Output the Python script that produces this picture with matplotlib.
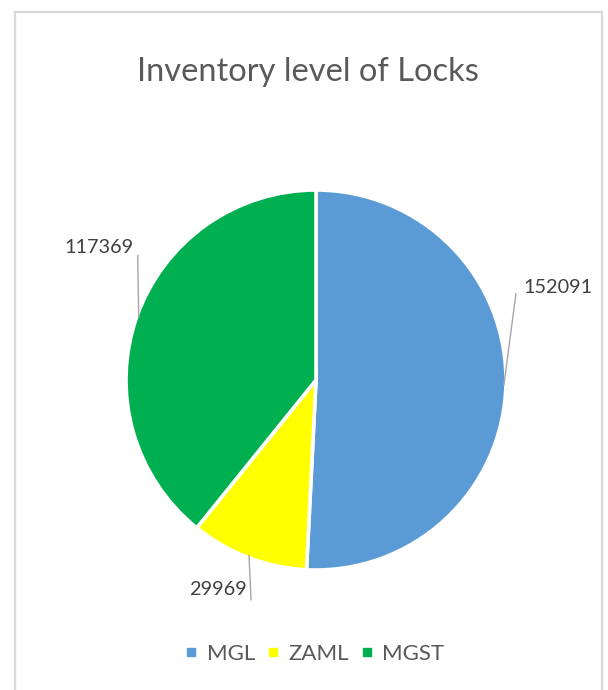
import numpy as np
import matplotlib
matplotlib.use("Agg")
import matplotlib.pyplot as plt
from matplotlib.lines import Line2D
from matplotlib.patches import Rectangle

plt.rcParams["font.family"] = ["Lato", "DejaVu Sans"]

# data
title = "Inventory level of Locks"
categories = ["MGL", "ZAML", "MGST"]
values = [152091, 29969, 117369]
colors = ["#5B9BD5", "#FFFF00", "#00B050"]

W, H = 608, 690
fig = plt.figure(figsize=(W / 100, H / 100), dpi=100)
ax = fig.add_axes([0, 0, 1, 1])

# chart frame
fig.patches.append(Rectangle((15 / W, -0.05), 587 / W, 1.05 - 12 / H,
                             transform=fig.transFigure, fill=False,
                             edgecolor="#D9D9D9", linewidth=1.6))

center = (316, 310)
radius = 190
wedges, _ = ax.pie(values, colors=colors, startangle=90, counterclock=False,
                   center=center, radius=radius, frame=True,
                   wedgeprops=dict(edgecolor="white", linewidth=2.6))
ax.set_xlim(0, W)
ax.set_ylim(0, H)
ax.set_aspect("equal")
ax.axis("off")

# leader lines + data labels (line offset, text offset, alignment)
line_off = [(12, 91), (2, -44), (-1, 62)]
text_off = [(7, 6), (-4, 10), (-4, 8)]
aligns = ["left", "right", "right"]
for w, v, lo, to, ha in zip(wedges, values, line_off, text_off, aligns):
    ang = np.deg2rad((w.theta1 + w.theta2) / 2)
    x0 = center[0] + 188 * np.cos(ang)
    y0 = center[1] + 188 * np.sin(ang)
    x1, y1 = x0 + lo[0], y0 + lo[1]
    ax.plot([x0, x1], [y0, y1], color="#A6A6A6", linewidth=1.0)
    ax.text(x1 + to[0], y1 + to[1], str(v), ha=ha, va="center",
            fontsize=14.3, color="#404040")

fig.text(308 / W, (H - 81) / H, title, ha="center", va="baseline",
         fontsize=23.5, color="#595959")

handles = [Line2D([], [], marker="s", linestyle="none", markersize=5.2,
                  markerfacecolor=c, markeredgecolor=c) for c in colors]
fig.legend(handles, categories, loc="center", ncol=3,
           bbox_to_anchor=(315 / W, 36 / H), frameon=False,
           fontsize=16, labelcolor="#595959", handlelength=0.5,
           handletextpad=0.45, columnspacing=0.55)

fig.savefig("out.png", dpi=100)
